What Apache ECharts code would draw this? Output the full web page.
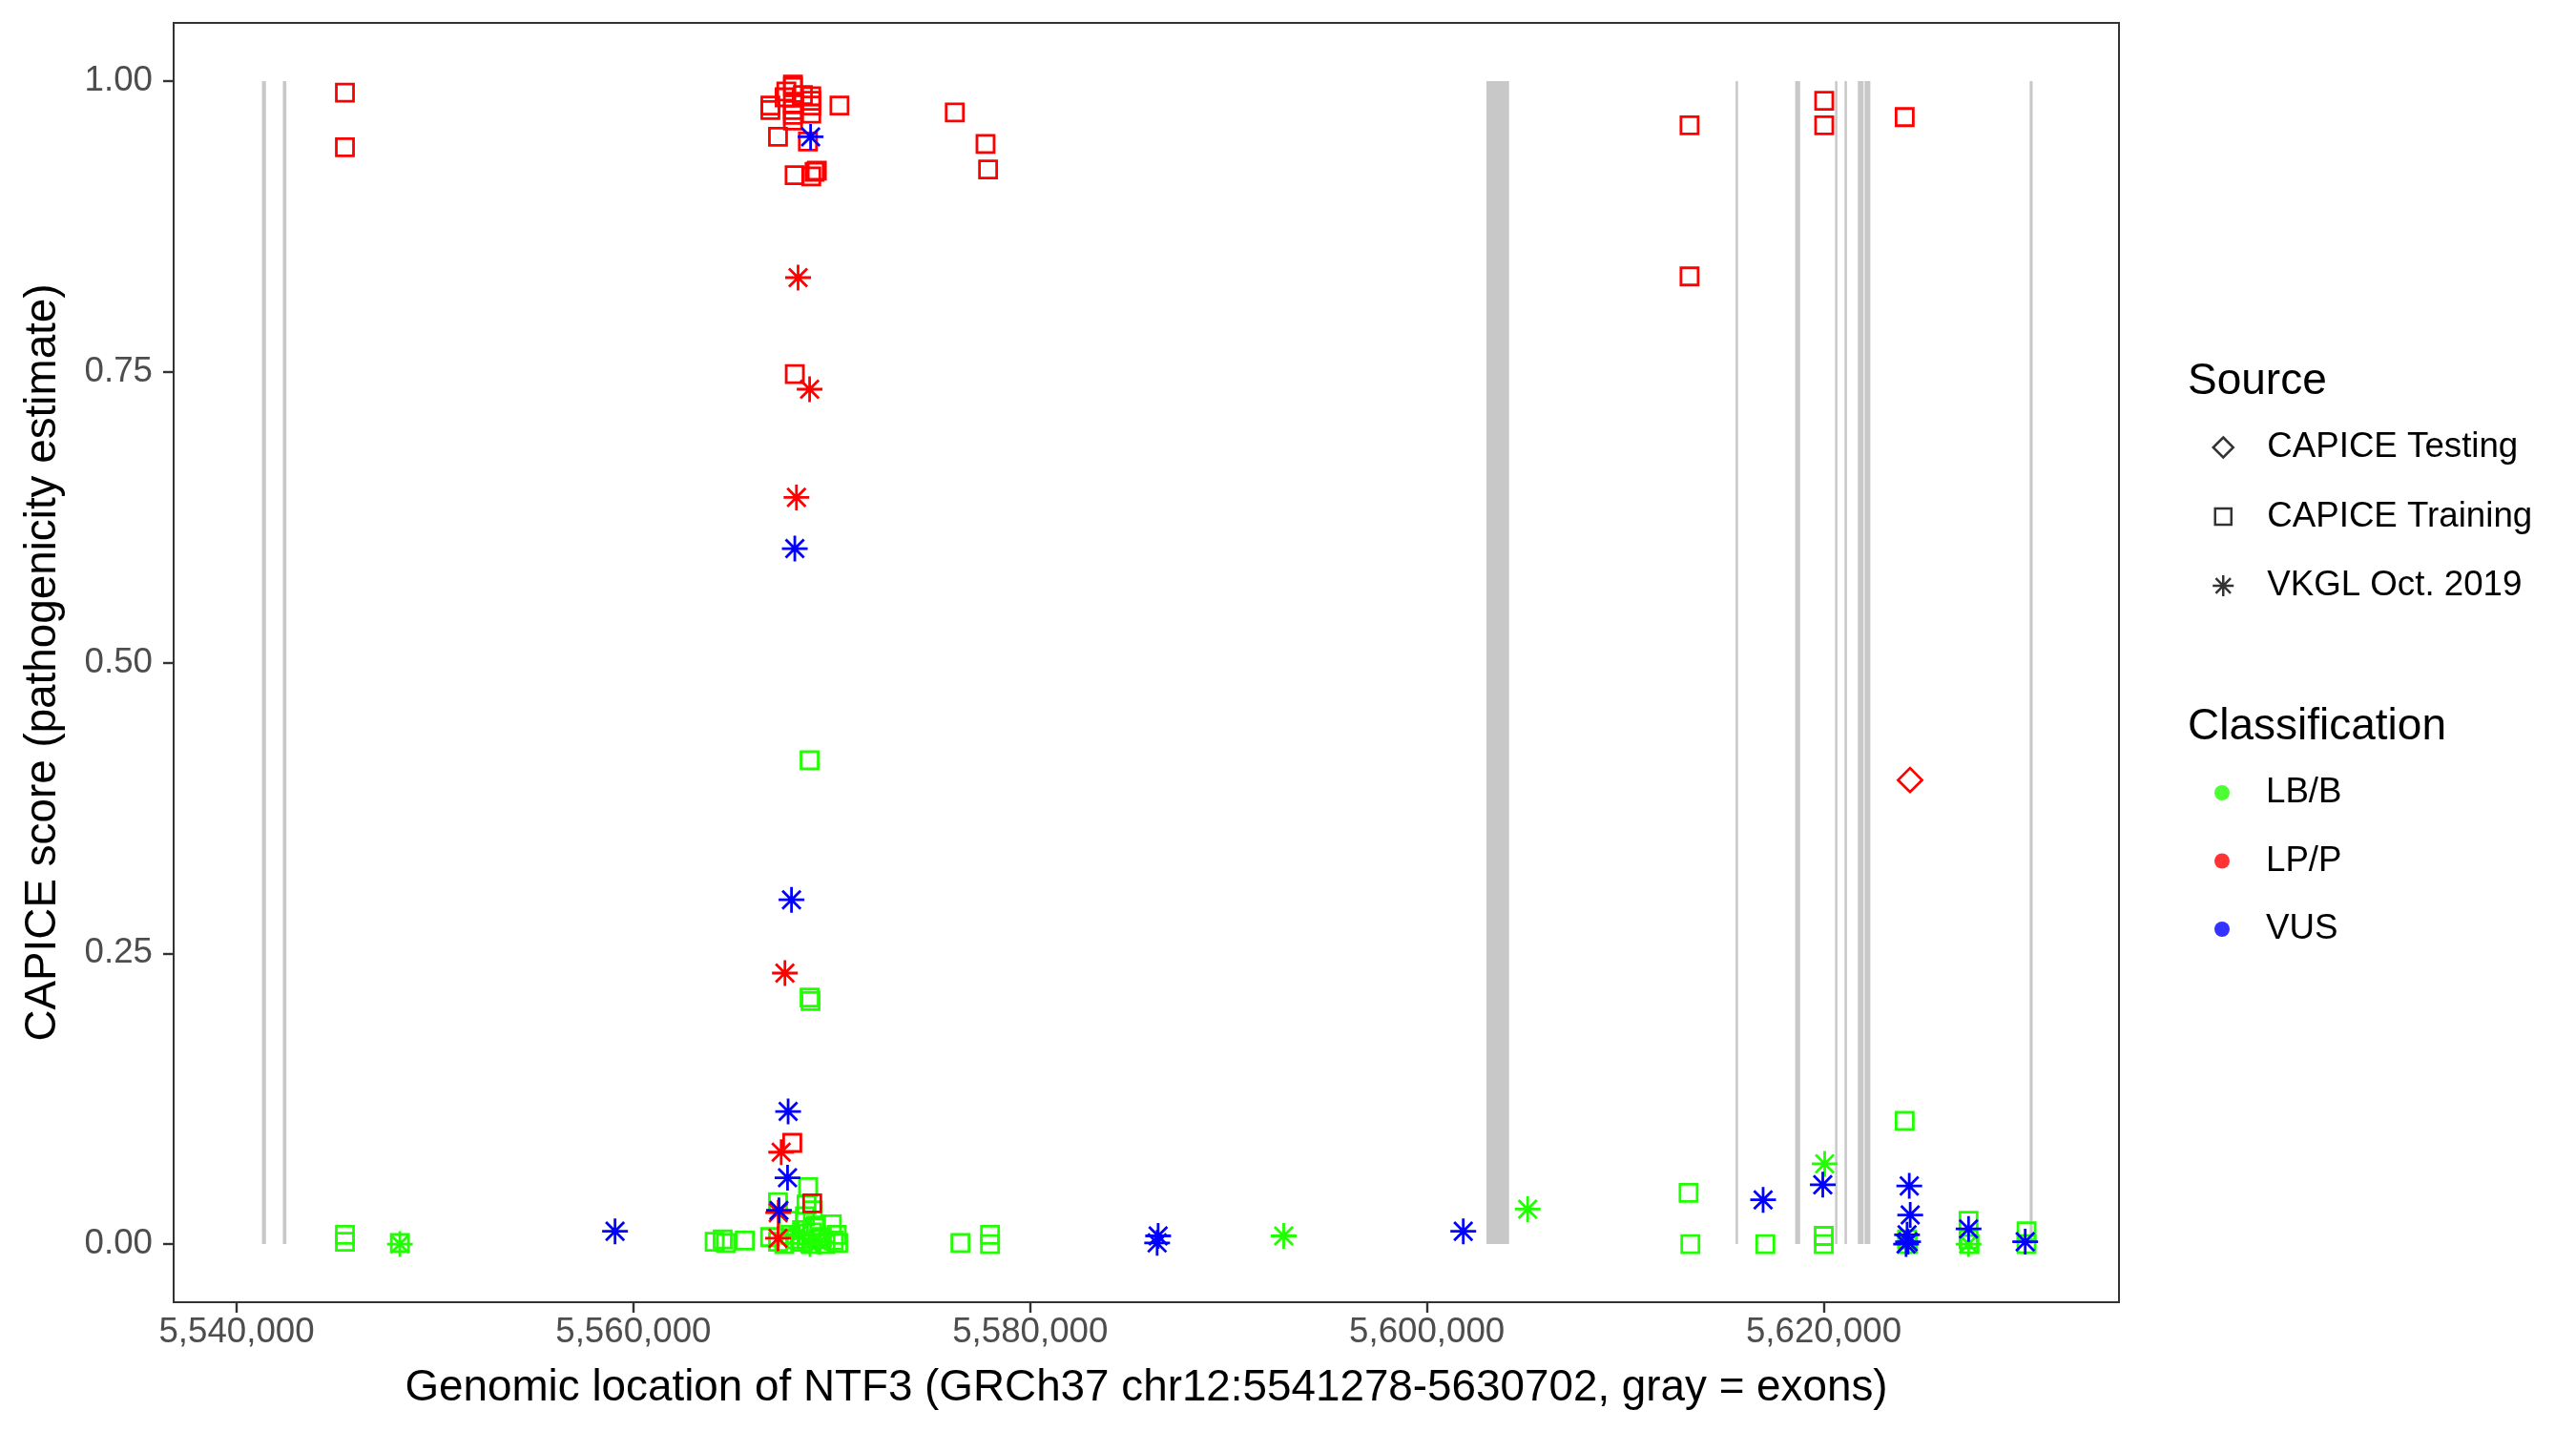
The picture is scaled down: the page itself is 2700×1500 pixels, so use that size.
<!DOCTYPE html>
<html>
<head>
<meta charset="utf-8">
<script src="https://cdn.jsdelivr.net/npm/echarts@6/dist/echarts.min.js"></script>
<style>
html,body{margin:0;padding:0;background:#fff;}
#chart{width:2700px;height:1500px;}
</style>
</head>
<body>
<div id="chart"></div>
<script>
// ---- data ----
const xTicks = [5540000, 5560000, 5580000, 5600000, 5620000];
const yTicks = [0, 0.25, 0.5, 0.75, 1];

const exonStart = [5541278, 5542330, 5603000, 5615560, 5618560, 5620570, 5621050, 5621720, 5622060, 5630380];
const exonEnd   = [5541480, 5542510, 5604140, 5615680, 5618810, 5620680, 5621150, 5622010, 5622350, 5630530];

// CAPICE Training, LB/B
const trainLB = [
  [5545460, 0.008], [5545460, 0.002], [5548230, 0.001],
  [5564096, 0.002], [5564500, 0.004], [5564657, 0.001], [5565615, 0.003], [5566890, 0.006], [5567290, 0.002],
  [5568882, 0.416], [5568882, 0.212], [5568930, 0.209],
  [5568805, 0.049], [5567290, 0.036], [5568727, 0.034], [5568647, 0.024], [5569045, 0.029],
  [5569208, 0.016], [5570003, 0.017], [5570243, 0.008], [5570323, 0.001], [5568407, 0.002],
  [5568966, 0.000], [5569365, 0.004], [5569685, 0.000], [5567928, 0.008], [5567609, 0.000],
  [5568500, 0.012], [5569000, 0.010], [5569500, 0.006], [5570100, 0.003], [5567800, 0.020], [5568200, 0.004],
  [5576484, 0.001], [5577977, 0.008], [5577977, 0.000],
  [5613187, 0.044], [5613277, 0.000], [5617057, 0.000], [5620000, 0.007], [5620000, 0.000],
  [5624081, 0.106], [5624200, 0.004], [5624250, 0.000],
  [5627300, 0.020], [5627300, 0.004], [5627350, 0.000], [5630223, 0.011], [5630223, 0.000]
];
// CAPICE Training, LP/P
const trainLP = [
  [5545460, 0.990], [5545460, 0.943],
  [5568043, 0.997], [5568043, 0.995], [5567710, 0.991], [5568965, 0.987], [5568965, 0.983], [5568965, 0.979],
  [5566905, 0.979], [5566905, 0.975], [5570388, 0.979], [5568043, 0.980], [5568043, 0.975], [5568043, 0.971],
  [5568043, 0.966], [5568965, 0.972], [5567289, 0.952], [5568797, 0.948], [5568127, 0.919], [5568965, 0.918],
  [5569133, 0.922], [5569248, 0.923], [5567624, 0.986], [5568544, 0.988],
  [5568136, 0.748], [5568009, 0.087], [5569015, 0.035],
  [5576200, 0.973], [5577749, 0.946], [5577878, 0.924],
  [5613236, 0.962], [5613236, 0.832], [5620024, 0.983], [5620024, 0.962], [5624081, 0.969]
];
// CAPICE Testing, LP/P
const testLP = [[5624350, 0.399]];
// VKGL Oct. 2019, LB/B
const vkglLB = [
  [5548230, 0.000], [5592780, 0.007], [5605078, 0.030], [5620048, 0.069], [5627300, 0.000],
  [5568900, 0.000], [5568300, 0.008], [5569400, 0.002]
];
// VKGL Oct. 2019, LP/P
const vkglLP = [
  [5568302, 0.831], [5568883, 0.735], [5568219, 0.642], [5567638, 0.233], [5567449, 0.079],
  [5567300, 0.027], [5567290, 0.005]
];
// VKGL Oct. 2019, VUS
const vkglVUS = [
  [5568932, 0.952], [5568136, 0.598], [5567970, 0.296], [5567799, 0.114], [5567770, 0.057], [5567338, 0.029],
  [5559075, 0.011], [5586450, 0.007], [5586400, 0.001], [5601830, 0.011], [5616944, 0.038],
  [5619952, 0.051], [5624311, 0.050], [5624359, 0.025], [5624200, 0.008], [5624250, 0.002], [5624150, 0.000],
  [5627300, 0.013], [5630155, 0.002]
];

const sourceNames = ['CAPICE Testing', 'CAPICE Training', 'VKGL Oct. 2019'];
const classNames = ['LB/B', 'LP/P', 'VUS'];

// ---- styles ----
const COL = {'LB/B': '#1fff00', 'LP/P': '#ff0000', 'VUS': '#0000ff'};
const ASTER = 'path://M10,0L10,20M0,10L20,10M2.93,2.93L17.07,17.07M2.93,17.07L17.07,2.93';
const SYM = {
  'CAPICE Testing': {symbol: 'diamond', size: 25},
  'CAPICE Training': {symbol: 'rect', size: 18},
  'VKGL Oct. 2019': {symbol: ASTER, size: 27}
};
const LEG_ICON = {
  'CAPICE Testing': 'path://M0,0M22,22M11,0.5L21.5,11L11,21.5L0.5,11Z',
  'CAPICE Training': 'path://M0,0M22,22M2.5,2.5L19.5,2.5L19.5,19.5L2.5,19.5Z',
  'VKGL Oct. 2019': 'path://M0,0M22,22M11,0L11,22M0,11L22,11M3.2,3.2L18.8,18.8M3.2,18.8L18.8,3.2'
};
const FONT = 'Liberation Sans, Arial, sans-serif';

function pointSeries(data, source, cls) {
  return {
    type: 'scatter',
    name: source + ' / ' + cls,
    data: data,
    symbol: SYM[source].symbol,
    symbolSize: SYM[source].size,
    itemStyle: {color: 'rgba(0,0,0,0)', borderColor: COL[cls], borderWidth: 2.8, opacity: 1},
    emphasis: {disabled: true},
    silent: true,
    z: 3
  };
}

const series = [
  {
    type: 'custom',
    name: 'exons',
    data: exonStart.map((s, i) => [s, exonEnd[i]]),
    encode: {x: [0, 1]},
    silent: true,
    z: 1,
    renderItem: function (params, api) {
      const p0 = api.coord([api.value(0), 1]);
      const p1 = api.coord([api.value(1), 0]);
      return {
        type: 'rect',
        shape: {x: p0[0], y: p0[1], width: Math.max(p1[0] - p0[0], 2.5), height: p1[1] - p0[1]},
        style: {fill: '#c8c8c8'}
      };
    }
  },
  pointSeries(trainLB, 'CAPICE Training', 'LB/B'),
  pointSeries(trainLP, 'CAPICE Training', 'LP/P'),
  pointSeries(testLP, 'CAPICE Testing', 'LP/P'),
  pointSeries(vkglLB, 'VKGL Oct. 2019', 'LB/B'),
  pointSeries(vkglLP, 'VKGL Oct. 2019', 'LP/P'),
  pointSeries(vkglVUS, 'VKGL Oct. 2019', 'VUS')
];

sourceNames.forEach(n => series.push({
  type: 'scatter', name: n, data: [], symbol: SYM[n].symbol,
  itemStyle: {color: 'rgba(0,0,0,0)', borderColor: '#000', borderWidth: 2.5}
}));
classNames.forEach(n => series.push({
  type: 'scatter', name: n, data: [], symbol: 'circle',
  itemStyle: {color: COL[n], borderWidth: 0}
}));

const axisLineStyle = {color: '#333333', width: 2};
const tickStyle = {color: '#333333', width: 2.4};

const chart = echarts.init(document.getElementById('chart'), null, {renderer: 'canvas'});
chart.setOption({
  animation: false,
  backgroundColor: '#ffffff',
  textStyle: {fontFamily: FONT},
  title: [
    {text: 'Source', left: 2293, top: 377, padding: 0,
     textStyle: {fontSize: 46, fontWeight: 'normal', color: '#000', fontFamily: FONT}},
    {text: 'Classification', left: 2293, top: 739, padding: 0,
     textStyle: {fontSize: 46, fontWeight: 'normal', color: '#000', fontFamily: FONT}}
  ],
  legend: [
    {
      orient: 'vertical', left: 2318, top: 449, padding: 0,
      itemWidth: 22, itemHeight: 22, itemGap: 32.5, selectedMode: false,
      data: sourceNames.map(n => ({
        name: n, icon: LEG_ICON[n],
        itemStyle: {color: 'rgba(0,0,0,0)', borderColor: '#000', borderWidth: 2.5}
      })),
      textStyle: {fontSize: 36.7, color: '#000', fontFamily: FONT, lineHeight: 40, padding: [0, 0, 0, 30]}
    },
    {
      orient: 'vertical', left: 2321, top: 811, padding: 0,
      itemWidth: 16, itemHeight: 16, itemGap: 31.5, selectedMode: false,
      data: classNames.map(n => ({name: n, icon: 'circle', itemStyle: {color: COL[n], borderWidth: 0}})),
      textStyle: {fontSize: 36.7, color: '#000', fontFamily: FONT, lineHeight: 40, padding: [0, 0, 0, 33]}
    }
  ],
  grid: {left: 182, right: 479, top: 24, bottom: 135, show: true, borderColor: '#333333', borderWidth: 2,
         containLabel: false},
  xAxis: {
    type: 'value', min: 5536826, max: 5634883, z: 10,
    name: 'Genomic location of NTF3 (GRCh37 chr12:5541278-5630702, gray = exons)',
    nameLocation: 'middle', nameGap: 67,
    nameTextStyle: {fontSize: 45.8, color: '#000', fontFamily: FONT},
    axisLine: {show: true, onZero: false, lineStyle: axisLineStyle},
    splitLine: {show: false},
    axisTick: {show: true, inside: false, customValues: xTicks, length: 11, lineStyle: tickStyle},
    axisLabel: {customValues: xTicks, margin: 13, fontSize: 36.7, color: '#4d4d4d', fontFamily: FONT,
                formatter: v => Math.round(v).toLocaleString('en-US')}
  },
  yAxis: {
    type: 'value', min: -0.05, max: 1.05, z: 10,
    name: 'CAPICE score (pathogenicity estimate)',
    nameLocation: 'middle', nameGap: 114,
    nameTextStyle: {fontSize: 45.8, color: '#000', fontFamily: FONT},
    axisLine: {show: true, onZero: false, lineStyle: axisLineStyle},
    splitLine: {show: false},
    axisTick: {show: true, inside: false, customValues: yTicks, length: 11, lineStyle: tickStyle},
    axisLabel: {customValues: yTicks, margin: 22, fontSize: 36.7, color: '#4d4d4d', fontFamily: FONT,
                formatter: v => v.toFixed(2)}
  },
  series: series
});
</script>
</body>
</html>
